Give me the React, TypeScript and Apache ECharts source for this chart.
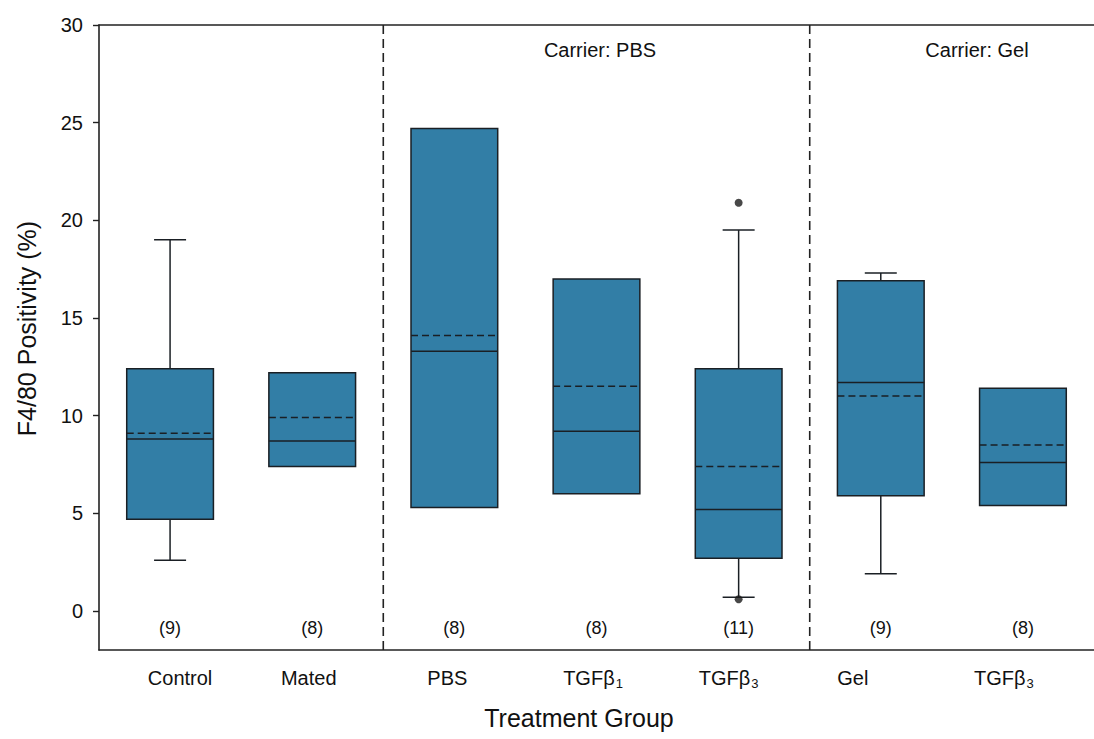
import React, { useEffect, useRef } from "react";
import * as echarts from "echarts";

// Treatment groups (unique keys) and their printed labels [main, subscript]
const groups = ["Control", "Mated", "PBS", "PBS TGFb1", "PBS TGFb3", "Gel", "Gel TGFb3"];
const groupLabels: [string, string][] = [
  ["Control", ""],
  ["Mated", ""],
  ["PBS", ""],
  ["TGFβ", "1"],
  ["TGFβ", "3"],
  ["Gel", ""],
  ["TGFβ", "3"],
];

// Box statistics, F4/80 positivity (%)
const q1 = [4.7, 7.4, 5.3, 6.0, 2.7, 5.9, 5.4];
const q3 = [12.4, 12.2, 24.7, 17.0, 12.4, 16.9, 11.4];
const median = [8.8, 8.7, 13.3, 9.2, 5.2, 11.7, 7.6];
const mean = [9.1, 9.9, 14.1, 11.5, 7.4, 11.0, 8.5];
const whiskerLow: (number | null)[] = [2.6, null, null, null, 0.7, 1.9, null];
const whiskerHigh: (number | null)[] = [19.0, null, null, null, 19.5, 17.3, null];
const outliers: [number, number][] = [
  [4, 20.9],
  [4, 0.6],
];
const counts = [9, 8, 8, 8, 11, 9, 8];

// Group separators on the 0..7 band scale, and y tick values
const separators = [2, 5];
const yTicks = [0, 5, 10, 15, 20, 25, 30];

const FONT = "'Liberation Sans', Arial, Helvetica, sans-serif";
const BOX_FILL = "#327ea6";
const INK = "#1a1f24";

// horizontal nudges of the category labels (px)
const labelShift = [10, -3.5, -7, -3.5, -10, -28, -19];

export default function App() {
  const ref = useRef<HTMLDivElement>(null);

  useEffect(() => {
    if (!ref.current) return;
    const chart = echarts.init(ref.current, undefined, { renderer: "svg" });

    const rich: Record<string, any> = {};
    groupLabels.forEach(([main, sub], i) => {
      const off = labelShift[i];
      const padL = off > 0 ? off * 2 : 0;
      const padR = off < 0 ? -off * 2 : 0;
      rich["a" + i] = {
        fontSize: 20,
        lineHeight: 24,
        fontFamily: FONT,
        color: "#111",
        padding: [0, sub ? 0 : padR, 0, padL],
      };
      rich["b" + i] = {
        fontSize: 13,
        lineHeight: 5,
        verticalAlign: "bottom",
        fontFamily: FONT,
        color: "#111",
        padding: [0, padR, 0, 1],
      };
    });

    const boxData = groups.map((_, i) => [
      i,
      q1[i],
      q3[i],
      median[i],
      mean[i],
      whiskerLow[i] == null ? NaN : whiskerLow[i],
      whiskerHigh[i] == null ? NaN : whiskerHigh[i],
    ]);

    const renderBox = (_params: any, api: any) => {
      const idx = api.value(0);
      const lo = api.value(1);
      const hi = api.value(2);
      const med = api.value(3);
      const mn = api.value(4);
      const wl = api.value(5);
      const wh = api.value(6);
      const band = api.size([1, 0])[0];
      const w = band * 0.61;
      const cap = 32;
      const cx = api.coord([idx, lo])[0];
      const y = (v: number) => api.coord([idx, v])[1];
      const x0 = cx - w / 2;
      const x1 = cx + w / 2;
      const lineStyle = { stroke: INK, lineWidth: 1.5 };
      const children: any[] = [];
      if (isFinite(wh)) {
        children.push({ type: "line", shape: { x1: cx, y1: y(hi), x2: cx, y2: y(wh) }, style: lineStyle });
        children.push({ type: "line", shape: { x1: cx - cap / 2, y1: y(wh), x2: cx + cap / 2, y2: y(wh) }, style: lineStyle });
      }
      if (isFinite(wl)) {
        children.push({ type: "line", shape: { x1: cx, y1: y(lo), x2: cx, y2: y(wl) }, style: lineStyle });
        children.push({ type: "line", shape: { x1: cx - cap / 2, y1: y(wl), x2: cx + cap / 2, y2: y(wl) }, style: lineStyle });
      }
      children.push({
        type: "rect",
        shape: { x: x0, y: y(hi), width: w, height: y(lo) - y(hi) },
        style: { fill: BOX_FILL, stroke: INK, lineWidth: 1.5 },
      });
      children.push({ type: "line", shape: { x1: x0, y1: y(med), x2: x1, y2: y(med) }, style: lineStyle });
      children.push({
        type: "line",
        shape: { x1: x0, y1: y(mn), x2: x1, y2: y(mn) },
        style: { stroke: INK, lineWidth: 1.5, lineDash: [7, 4] },
      });
      return { type: "group", children };
    };

    const renderSeparator = (params: any, api: any) => {
      const cs = params.coordSys;
      const x = api.coord([api.value(0), 0])[0];
      return {
        type: "line",
        shape: { x1: x, y1: cs.y, x2: x, y2: cs.y + cs.height },
        style: { stroke: "#222", lineWidth: 1.6, lineDash: [9, 5] },
      };
    };

    const renderCount = (_params: any, api: any) => {
      const [x, yy] = api.coord([api.value(0), -0.85]);
      return {
        type: "text",
        x,
        y: yy,
        style: {
          text: "(" + api.value(1) + ")",
          textAlign: "center",
          textVerticalAlign: "middle",
          font: "18px " + FONT,
          fill: "#111",
        },
      };
    };

    chart.setOption({
      animation: false,
      backgroundColor: "#ffffff",
      textStyle: { fontFamily: FONT },
      grid: { left: 99, top: 25, width: 1002, height: 625, containLabel: false },
      xAxis: [
        {
          type: "category",
          data: groups,
          boundaryGap: true,
          axisLine: { onZero: false, lineStyle: { color: "#222", width: 1.6 } },
          axisTick: { alignWithLabel: true, length: 7, lineStyle: { color: "#222", width: 1.4 } },
          axisLabel: {
            margin: 16,
            interval: 0,
            rich,
            formatter: (_v: string, i: number) => {
              const [main, sub] = groupLabels[i];
              return sub ? `{a${i}|${main}}{b${i}|${sub}}` : `{a${i}|${main}}`;
            },
          },
          splitLine: { show: false },
          name: "Treatment Group",
          nameLocation: "middle",
          nameGap: 55,
          nameTextStyle: { fontSize: 25, color: "#111", fontFamily: FONT, padding: [0, 35, 0, 0] },
        },
        {
          type: "value",
          position: "top",
          min: 0,
          max: 7,
          axisLine: { show: true, onZero: false, lineStyle: { color: "#222", width: 1.6 } },
          axisTick: { show: false },
          axisLabel: { show: false },
          splitLine: { show: false },
        },
      ],
      yAxis: {
        type: "value",
        min: -2,
        max: 30,
        axisLine: { show: true, onZero: false, lineStyle: { color: "#222", width: 1.6 } },
        axisTick: { show: true, length: 6, customValues: yTicks, lineStyle: { color: "#222", width: 1.4 } },
        axisLabel: { margin: 16, fontSize: 20, color: "#111", fontFamily: FONT, customValues: yTicks },
        splitLine: { show: false },
        name: "F4/80 Positivity (%)",
        nameLocation: "middle",
        nameGap: 60,
        nameTextStyle: { fontSize: 25, color: "#111", fontFamily: FONT, padding: [0, 0, 0, 18] },
      },
      graphic: [
        {
          type: "text",
          x: 600,
          y: 50,
          style: { text: "Carrier: PBS", font: "20px " + FONT, fill: "#111", textAlign: "center", textVerticalAlign: "middle" },
        },
        {
          type: "text",
          x: 977,
          y: 50,
          style: { text: "Carrier: Gel", font: "20px " + FONT, fill: "#111", textAlign: "center", textVerticalAlign: "middle" },
        },
      ],
      series: [
        {
          type: "custom",
          name: "separators",
          xAxisIndex: 1,
          yAxisIndex: 0,
          renderItem: renderSeparator,
          data: separators.map((s) => [s]),
          silent: true,
        },
        {
          type: "custom",
          name: "boxes",
          xAxisIndex: 0,
          yAxisIndex: 0,
          renderItem: renderBox,
          encode: { x: 0, y: [1, 2, 3, 4, 5, 6] },
          data: boxData,
        },
        {
          type: "scatter",
          name: "outliers",
          xAxisIndex: 0,
          yAxisIndex: 0,
          symbol: "circle",
          symbolSize: 8,
          itemStyle: { color: "#1a1a1a" },
          data: outliers,
        },
        {
          type: "custom",
          name: "n",
          xAxisIndex: 0,
          yAxisIndex: 0,
          renderItem: renderCount,
          encode: { x: 0 },
          data: counts.map((n, i) => [i, n]),
          silent: true,
        },
      ],
    });

    return () => chart.dispose();
  }, []);

  return (
    <div
      ref={ref}
      style={{ position: "fixed", left: 0, top: 0, width: 1094, height: 739, background: "#fff" }}
    />
  );
}
